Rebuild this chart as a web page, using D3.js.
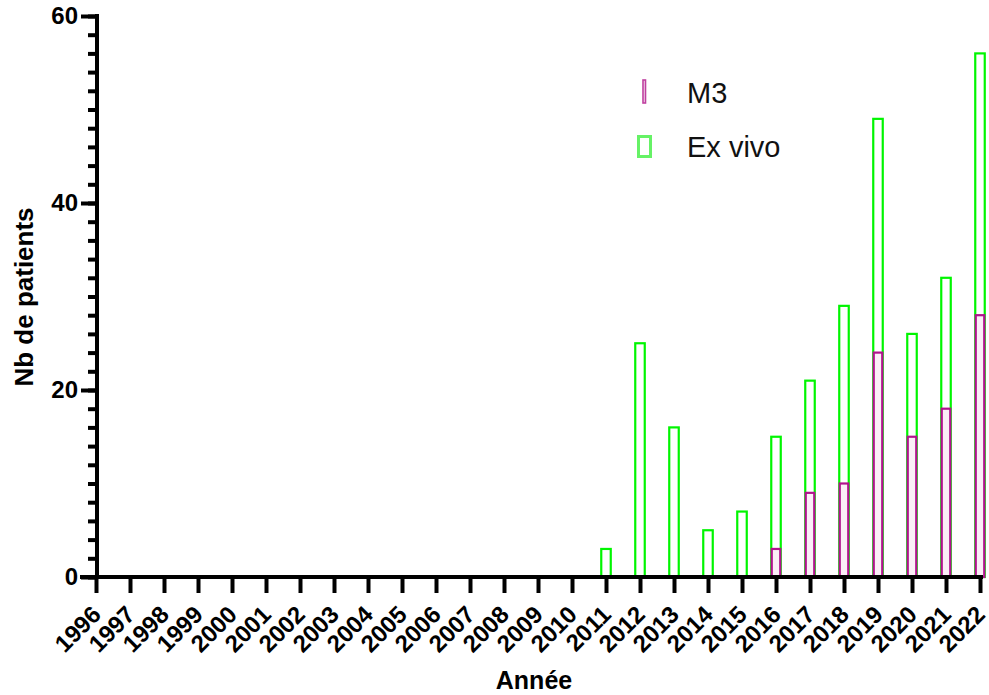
<!DOCTYPE html>
<html><head><meta charset="utf-8">
<script src="https://cdn.jsdelivr.net/npm/d3@7"></script>
<style>body{margin:0;background:#fff}svg{display:block}</style>
</head><body>
<script>
const years = d3.range(1996, 2023).map(String);
const exVivoYears = ["2011","2012","2013","2014","2015","2016","2017","2018","2019","2020","2021","2022"];
const exVivoValues = [3,25,16,5,7,15,21,29,49,26,32,56];
const m3Years = ["2016","2017","2018","2019","2020","2021","2022"];
const m3Values = [3,9,10,24,15,18,28];
const yMajorTicks = [0,20,40,60];
const yMinorTicks = d3.range(0,61,2);
const legendLabels = ["M3","Ex vivo"];

const W=989,H=695;
const FONT="Liberation Sans, Arial, sans-serif";
const svg=d3.select("body").append("svg").attr("width",W).attr("height",H);
const x=d3.scalePoint().domain(years).range([96,980]);
const y=d3.scaleLinear().domain([0,60]).range([577,16]);
const green="#00f500", mag="#b0128c";
const bw=9.5;

// bars
svg.append("g").selectAll("rect").data(exVivoYears.map((d,i)=>({k:d,v:exVivoValues[i]}))).join("rect")
 .attr("x",d=>x(d.k)-bw/2).attr("y",d=>y(d.v)).attr("width",bw).attr("height",d=>y(0)-y(d.v))
 .attr("fill","#fff").attr("stroke",green).attr("stroke-width",2.2);
svg.append("g").selectAll("rect").data(m3Years.map((d,i)=>({k:d,v:m3Values[i]}))).join("rect")
 .attr("x",d=>x(d.k)-bw/2+0.5).attr("y",d=>y(d.v)).attr("width",bw-1).attr("height",d=>y(0)-y(d.v))
 .attr("fill","#fbeef7").attr("stroke",mag).attr("stroke-width",2.2);

// y axis
const ya=svg.append("g").attr("transform","translate(97,0)");
ya.call(d3.axisLeft(y).tickValues(yMinorTicks).tickSize(9).tickFormat(""));
ya.append("g").call(d3.axisLeft(y).tickValues(yMajorTicks).tickSize(16).tickFormat(d3.format("d")));
ya.selectAll("path.domain").attr("stroke","#000").attr("stroke-width",4);
ya.selectAll(".tick line").attr("stroke","#000").attr("stroke-width",4);
ya.selectAll(".tick text").attr("font-family",FONT).attr("font-weight","bold").attr("font-size",24).attr("fill","#000").attr("x",-19);
ya.selectAll("path.domain").attr("d","M0,14V579");

// x axis
const xa=svg.append("g").attr("transform","translate(0,577)");
xa.call(d3.axisBottom(x).tickSize(16).tickPadding(6));
xa.select("path.domain").attr("d","M80,0H983").attr("stroke","#000").attr("stroke-width",4);
xa.selectAll(".tick line").attr("stroke","#000").attr("stroke-width",4);
xa.selectAll(".tick text").attr("font-family",FONT).attr("font-weight","bold").attr("font-size",24).attr("fill","#000")
  .attr("text-anchor","end").attr("dy",0).attr("transform","translate(6,39) rotate(-45)").attr("y",0).attr("x",0);

// axis titles
svg.append("text").attr("transform","translate(33,297) rotate(-90)").attr("text-anchor","middle")
 .attr("font-family",FONT).attr("font-weight","bold").attr("font-size",26).text("Nb de patients");
svg.append("text").attr("x",534).attr("y",689).attr("text-anchor","middle")
 .attr("font-family",FONT).attr("font-weight","bold").attr("font-size",25).text("Année");

// legend
const lg=svg.append("g");
lg.append("rect").attr("x",643).attr("y",80).attr("width",2.5).attr("height",23).attr("fill","#f6e4f0").attr("stroke","#c040a0").attr("stroke-width",1.6);
lg.append("rect").attr("x",638.5).attr("y",136.5).attr("width",12).attr("height",20).attr("fill","#fff").attr("stroke","#66f266").attr("stroke-width",3);
lg.selectAll("text").data(legendLabels).join("text").attr("x",687).attr("y",(d,i)=>103+i*54)
 .attr("font-family",FONT).attr("font-size",29).attr("fill","#111").text(d=>d);
</script>
</body></html>
